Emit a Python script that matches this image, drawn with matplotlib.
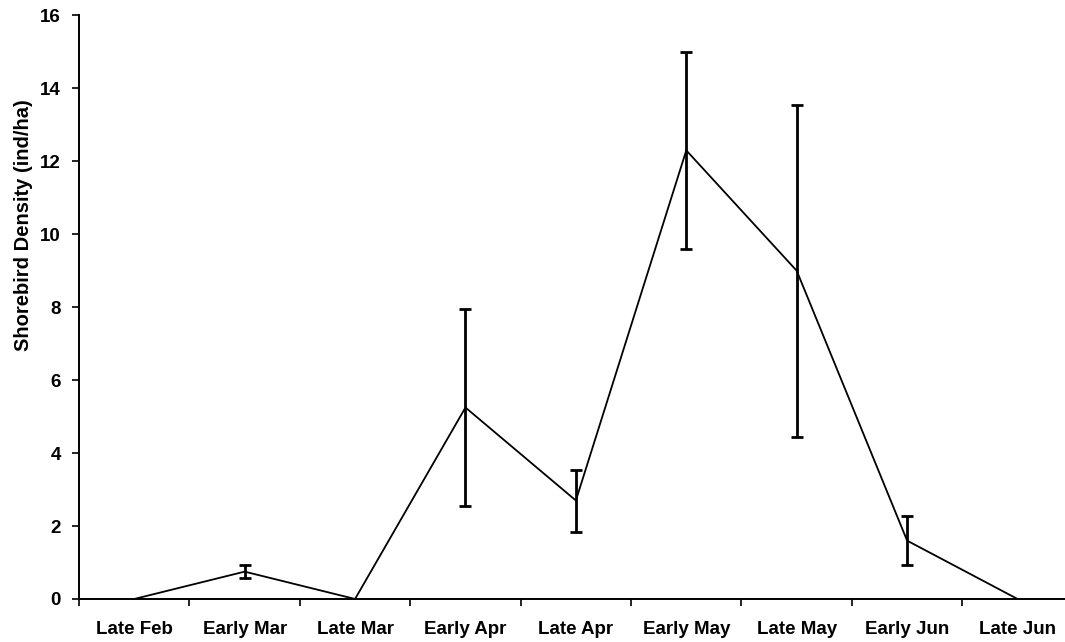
import matplotlib.pyplot as plt
import numpy as np

plt.rcParams['font.family'] = ['Liberation Sans', 'DejaVu Sans']
plt.rcParams['font.weight'] = 'bold'

periods = ['Late Feb', 'Early Mar', 'Late Mar', 'Early Apr', 'Late Apr',
           'Early May', 'Late May', 'Early Jun', 'Late Jun']
density = [0, 0.75, 0, 5.25, 2.7, 12.3, 9.0, 1.6, 0]
se = [0, 0.17, 0, 2.7, 0.85, 2.7, 4.55, 0.68, 0]

x = np.arange(len(periods))

fig = plt.figure(figsize=(10.65, 6.42), dpi=100)
ax = fig.add_axes([0.0742, 0.067, 0.9258, 0.909])

ax.plot(x, density, color='black', linewidth=1.3)
# only the points that have a spread get a whisker
has_err = [i for i in x if se[i] > 0]
ax.errorbar(x[has_err], [density[i] for i in has_err], yerr=[se[i] for i in has_err],
            fmt='none', ecolor='black', elinewidth=2.0, capsize=4, capthick=2.0)

ax.set_xlim(-0.5, 8.43)
ax.set_ylim(0, 16)
ax.set_yticks(range(0, 17, 2))
ax.set_xticks(np.arange(-0.5, 8.5, 1))
ax.set_xticklabels([])
ax.set_xticks(x, minor=True)
ax.set_xticklabels(periods, minor=True, fontsize=13.5, fontweight='bold')
ax.tick_params(axis='x', which='minor', length=0, pad=16)
ax.tick_params(axis='x', which='major', length=5, width=1.2)
ax.tick_params(axis='y', length=5, width=1.2, labelsize=13.5, pad=8)

for s in ['top', 'right']:
    ax.spines[s].set_visible(False)
ax.spines['left'].set_linewidth(1.4)
ax.spines['bottom'].set_linewidth(1.4)

ax.set_ylabel('Shorebird Density (ind/ha)', fontsize=14.5, fontweight='bold')
ax.yaxis.set_label_coords(-0.047, 0.64)

fig.savefig('out.png', dpi=100)
